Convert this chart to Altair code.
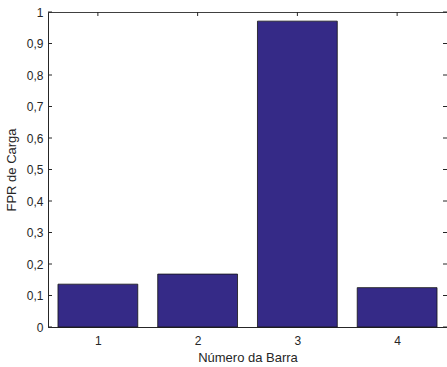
import altair as alt
import pandas as pd

barras = [1, 2, 3, 4]
fpr = [0.136, 0.168, 0.971, 0.125]
y_ticks = [0, 0.1, 0.2, 0.3, 0.4, 0.5, 0.6, 0.7, 0.8, 0.9, 1.0]

W, H = 399, 315
FONT = "Liberation Sans"
AX = "#262626"

df = pd.DataFrame({"barra": barras, "fpr": fpr})
dy = pd.DataFrame({"t": y_ticks})
dx = pd.DataFrame({"t": barras})

xscale = alt.Scale(domain=[0.5, 4.5], nice=False, zero=False)
yscale = alt.Scale(domain=[0, 1], nice=False)
xaxis = alt.Axis(values=barras, tickSize=0, labelPadding=8, grid=False,
                 titlePadding=5, format="d", labelOverlap=False)
yaxis = alt.Axis(values=y_ticks, tickSize=0, labelPadding=5, grid=False,
                 titlePadding=8, labelOverlap=False,
                 labelExpr="replace(format(datum.value, '~g'), '.', ',')")
XT = "Número da Barra"
YT = "FPR de Carga"

bars = alt.Chart(df).transform_calculate(
    x0="datum.barra - 0.4", x1="datum.barra + 0.4"
).mark_bar(color="#352a87", stroke="#141414", strokeWidth=0.8).encode(
    x=alt.X("x0:Q", scale=xscale, title=XT, axis=xaxis),
    x2="x1:Q",
    y=alt.Y("fpr:Q", scale=yscale, title=YT, axis=yaxis),
    y2=alt.datum(0),
)

left_ticks = alt.Chart(dy).mark_rule(color=AX, strokeWidth=1).encode(
    y=alt.Y("t:Q", scale=yscale, title=YT, axis=yaxis), x=alt.value(0), x2=alt.value(4))
right_ticks = alt.Chart(dy).mark_rule(color=AX, strokeWidth=1).encode(
    y=alt.Y("t:Q", scale=yscale, title=YT, axis=yaxis), x=alt.value(W - 4), x2=alt.value(W))
top_ticks = alt.Chart(dx).mark_rule(color=AX, strokeWidth=1).encode(
    x=alt.X("t:Q", scale=xscale, title=XT, axis=xaxis), y=alt.value(0), y2=alt.value(4))

chart = alt.layer(bars, left_ticks, right_ticks, top_ticks).properties(
    width=W, height=H,
    padding={"left": 48, "top": 12, "right": 0, "bottom": 40},
    autosize=alt.AutoSizeParams(type="none"),
    background="white",
).configure_view(stroke="#404040", strokeWidth=1).configure_axis(
    domainColor=AX, labelColor=AX, titleColor=AX, labelFont=FONT, titleFont=FONT,
    labelFontSize=12, titleFontSize=13, titleFontWeight="normal",
)

chart.save("out.html", embed_options={"renderer": "svg", "actions": False})
